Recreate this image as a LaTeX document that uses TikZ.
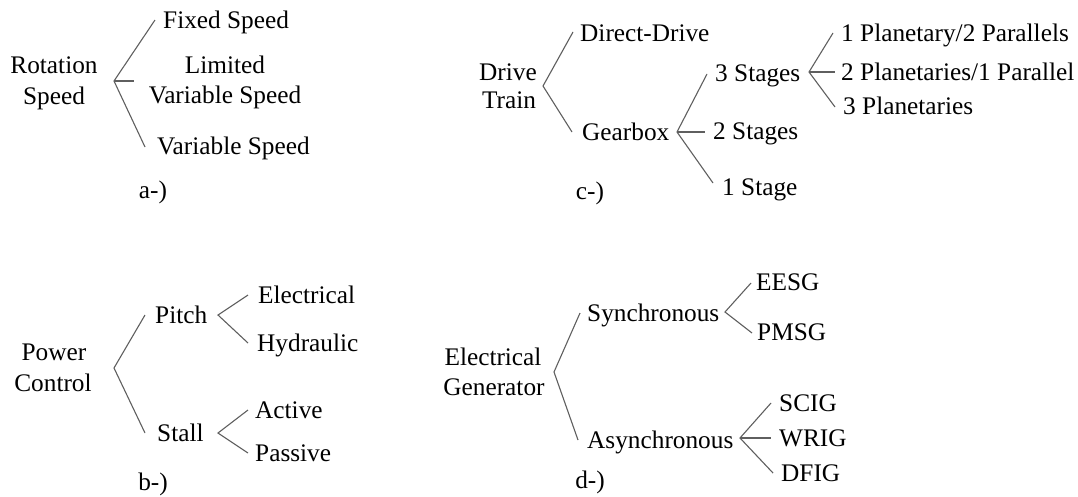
\documentclass[tikz,border=0pt]{standalone}
\usepackage{fontspec}
\setmainfont{Liberation Serif}
\begin{document}
\begin{tikzpicture}[x=1pt,y=-1pt,
  lbl/.style={inner sep=0pt, text height=17pt, text depth=0.5pt, font=\fontsize{25.3}{30}\selectfont},
  lw/.style={lbl, anchor=west},
  conn/.style={draw={rgb,255:red,95;green,95;blue,95}, line width=1.1pt}]
\useasboundingbox (0,0) rectangle (1078,496);
% ---------- a) Rotation speed
\node[lbl] (rot1) at (54,65) {Rotation};
\node[lbl] (rot2) at (54,96) {Speed};
\node[lw] (fixed) at (163,20) {Fixed Speed};
\node[lbl] (lim1) at (225,65) {Limited};
\node[lbl] (lim2) at (225,95) {Variable Speed};
\node[lw] (var) at (157,146) {Variable Speed};
\node[lbl] (capa) at (153,190) {a-)};
\coordinate (ra) at (114,81);
\coordinate (ra1) at (155,20);
\coordinate (ra2) at (134,81);
\coordinate (ra3) at (145,147);
\draw[conn] (ra1) -- (ra) -- (ra3);
\draw[conn] (ra) -- (ra2);
% ---------- b) Power control
\node[lbl] (pow1) at (54,352) {Power};
\node[lbl] (pow2) at (53,383) {Control};
\node[lw] (pitch) at (155,315) {Pitch};
\node[lw] (stall) at (157,433) {Stall};
\node[lw] (elec) at (258,295) {Electrical};
\node[lw] (hyd) at (257,343) {Hydraulic};
\node[lw] (act) at (255,410) {Active};
\node[lw] (pas) at (255,453) {Passive};
\node[lbl] (capb) at (153,482) {b-)};
\coordinate (pb) at (114,368);
\coordinate (pb1) at (145,315);
\coordinate (pb2) at (145,433);
\draw[conn] (pb1) -- (pb) -- (pb2);
\coordinate (pp) at (218,315);
\coordinate (pp1) at (248,295);
\coordinate (pp2) at (248,343);
\draw[conn] (pp1) -- (pp) -- (pp2);
\coordinate (ps) at (218,433);
\coordinate (ps1) at (248,410);
\coordinate (ps2) at (248,453);
\draw[conn] (ps1) -- (ps) -- (ps2);
% ---------- c) Drive train
\node[lbl] (dt1) at (508,72) {Drive};
\node[lbl] (dt2) at (509,100) {Train};
\node[lw] (dd) at (580,33) {Direct-Drive};
\node[lw] (gb) at (582,132) {Gearbox};
\node[lw] (s3) at (715,73) {3 Stages};
\node[lw] (s2) at (713,131) {2 Stages};
\node[lw] (s1) at (722,187) {1 Stage};
\node[lw] (pl1) at (841,33) {1 Planetary/2 Parallels};
\node[lw] (pl2) at (841,72) {2 Planetaries/1 Parallel};
\node[lw] (pl3) at (843,106) {3 Planetaries};
\node[lbl] (capc) at (590,191) {c-)};
\coordinate (cb) at (543,86);
\coordinate (cb1) at (573,32);
\coordinate (cb2) at (572,132);
\draw[conn] (cb1) -- (cb) -- (cb2);
\coordinate (gg) at (677,132);
\coordinate (gg1) at (707,74);
\coordinate (gg2) at (705,132);
\coordinate (gg3) at (713,183);
\draw[conn] (gg1) -- (gg) -- (gg3);
\draw[conn] (gg) -- (gg2);
\coordinate (st) at (809,72);
\coordinate (st1) at (833,33);
\coordinate (st2) at (835,72);
\coordinate (st3) at (835,107);
\draw[conn] (st1) -- (st) -- (st3);
\draw[conn] (st) -- (st2);
% ---------- d) Electrical generator
\node[lbl] (eg1) at (493,357) {Electrical};
\node[lbl] (eg2) at (494,387) {Generator};
\node[lw] (syn) at (587,313) {Synchronous};
\node[lw] (asy) at (587,440) {Asynchronous};
\node[lw] (eesg) at (756,282) {EESG};
\node[lw] (pmsg) at (757,332) {PMSG};
\node[lw] (scig) at (779,403) {SCIG};
\node[lw] (wrig) at (779,438) {WRIG};
\node[lw] (dfig) at (781,473) {DFIG};
\node[lbl] (capd) at (590,480) {d-)};
\coordinate (db) at (554,372);
\coordinate (db1) at (580,313);
\coordinate (db2) at (578,440);
\draw[conn] (db1) -- (db) -- (db2);
\coordinate (sy) at (725,312);
\coordinate (sy1) at (751,283);
\coordinate (sy2) at (752,333);
\draw[conn] (sy1) -- (sy) -- (sy2);
\coordinate (as) at (740,438);
\coordinate (as1) at (771,403);
\coordinate (as2) at (771,438);
\coordinate (as3) at (773,473);
\draw[conn] (as1) -- (as) -- (as3);
\draw[conn] (as) -- (as2);
\end{tikzpicture}
\end{document}
